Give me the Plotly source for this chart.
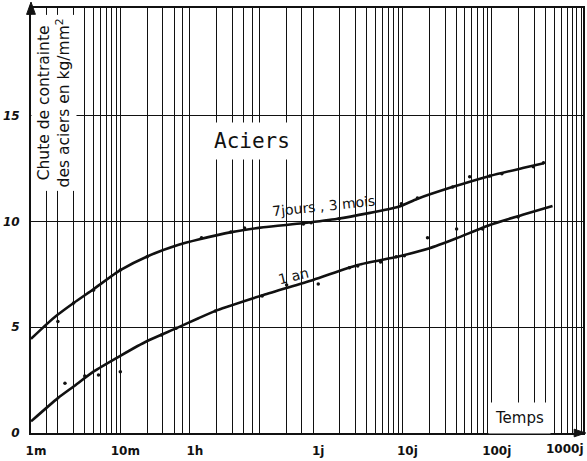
import plotly.graph_objects as go

# Time axis in minutes (log scale): 1 min ... 1000 days
tick_minutes = [1, 10, 60, 1440, 14400, 144000, 1440000]
tick_labels = ["1m", "10m", "1h", "1j", "10j", "100j", "1000j"]

# Secondary vertical rulings of the log paper (minutes)
grid_minutes = (
    [1.5, 2, 3, 4, 5, 6, 7, 8, 9]
    + [20, 30, 40, 50]
    + [120, 180, 240, 300, 360, 720, 1080]
    + [2880, 4320, 5760, 7200, 8640, 10080, 11520, 12960]
    + [28800, 43200, 57600, 72000, 86400, 100800, 115200, 129600]
    + [288000, 432000, 576000, 720000, 864000, 1008000, 1152000, 1296000]
)

y_ticks = [0, 5, 10, 15]

# Fitted curve "7jours, 3 mois"
curve_a_t = [1, 1.5, 2, 3, 5, 10, 20, 45, 75, 175, 400, 1100, 2700,
             13000, 21000, 52000, 137000, 320000, 550000]
curve_a_y = [4.45, 5.15, 5.6, 6.15, 6.8, 7.7, 8.35, 8.9, 9.15, 9.5, 9.73, 9.92, 10.13,
             10.7, 11.07, 11.63, 12.16, 12.53, 12.76]

# Fitted curve "1 an"
curve_b_t = [1, 2, 3, 5, 10, 20, 42, 75, 120, 400, 1440, 4550,
             13000, 29000, 58000, 137000, 320000, 690000]
curve_b_y = [0.55, 1.65, 2.2, 2.9, 3.65, 4.35, 4.95, 5.43, 5.8, 6.53, 7.24, 7.95,
             8.35, 8.74, 9.21, 9.84, 10.32, 10.74]

# Measured points
pts_a_t = [2, 3, 5, 10, 20, 81, 173, 246, 1120, 1368, 2810, 14000,
           21200, 52500, 81500, 137000, 187000, 421000, 547000]
pts_a_y = [5.27, 6.15, 6.75, 7.71, 8.34, 9.23, 9.51, 9.70, 9.89, 9.94, 10.13, 10.84,
           11.12, 11.64, 12.12, 12.16, 12.26, 12.59, 12.78]

pts_b_t = [2.4, 4.0, 5.7, 10, 29, 42, 116, 387, 728, 1645, 3670, 4550,
           8200, 12250, 15140, 27500, 58200, 114000, 284000]
pts_b_y = [2.35, 2.70, 2.74, 2.90, 4.64, 4.95, 5.77, 6.48, 7.0, 7.05, 7.81, 7.90,
           8.09, 8.33, 8.38, 9.23, 9.65, 9.65, 10.22]

INK = "#111111"
FONT = "DejaVu Sans"
TICK_FONT = dict(family=FONT, size=12, color=INK, weight="bold")

fig = go.Figure()

for t, y in ((curve_a_t, curve_a_y), (curve_b_t, curve_b_y)):
    fig.add_trace(go.Scatter(
        x=t, y=y, mode="lines",
        line=dict(color=INK, width=2.6, shape="spline", smoothing=0.6),
        hoverinfo="skip", showlegend=False,
    ))

for t, y in ((pts_a_t, pts_a_y), (pts_b_t, pts_b_y)):
    fig.add_trace(go.Scatter(
        x=t, y=y, mode="markers",
        marker=dict(color=INK, size=3.5),
        showlegend=False,
    ))

# the last label would run off the page, so it is set apart below
fig.update_xaxes(
    type="log",
    range=[0, 6.18],
    automargin=False,
    tickmode="array",
    tickvals=tick_minutes[:-1],
    ticktext=tick_labels[:-1],
    tickfont=TICK_FONT,
    ticks="",
    ticklabelstandoff=6,
    ticklabelshift=5,
    showgrid=True, gridcolor=INK, gridwidth=1,
    minor=dict(tickmode="array", tickvals=grid_minutes + tick_minutes[-1:],
               showgrid=True, gridcolor=INK, gridwidth=1, ticks=""),
    showline=True, linecolor=INK, linewidth=2, mirror=True,
    zeroline=False,
)

fig.update_yaxes(
    range=[0, 20.1],
    automargin=False,
    tickmode="array",
    tickvals=y_ticks,
    tickfont=dict(family=FONT, size=12, color=INK, weight="bold", style="italic"),
    ticks="",
    ticklabelstandoff=7,
    showgrid=True, gridcolor=INK, gridwidth=1,
    showline=True, linecolor=INK, linewidth=2, mirror=True,
    zeroline=False,
)

annotations = [
    # axis title, on a white ground over the rulings
    dict(xref="paper", yref="paper", x=0.042, y=0.776,
         xanchor="center", yanchor="middle",
         text="Chute de contrainte<br>des aciers en kg/mm<sup>2</sup>",
         textangle=-90, showarrow=False,
         font=dict(family=FONT, size=15.5, color=INK),
         bgcolor="white", borderpad=3),
    dict(x=2.475, y=13.82, text="Aciers", showarrow=False,
         font=dict(family="DejaVu Sans Mono", size=21, color=INK),
         bgcolor="white", borderpad=6),
    dict(x=3.27, y=10.74, text="7jours , 3 mois", textangle=-6, showarrow=False,
         font=dict(family=FONT, size=14, color=INK)),
    dict(x=2.934, y=7.43, text="1 an", textangle=-14, showarrow=False,
         font=dict(family=FONT, size=14, color=INK)),
    dict(x=5.465, y=0.72, text="Temps", showarrow=False,
         font=dict(family=FONT, size=15, color=INK),
         bgcolor="white", borderpad=6),
    # last time label, kept inside the page edge
    dict(xref="paper", yref="paper", x=1.006, y=0, xanchor="right", yanchor="top",
         yshift=-7, text=tick_labels[-1], showarrow=False, font=TICK_FONT),
]

# arrow heads at the ends of both axes
shapes = [
    dict(type="path", xref="paper", yref="paper",
         path="M -0.008,0.985 L 0,1.014 L 0.008,0.985 Z",
         fillcolor=INK, line=dict(color=INK, width=1)),
    dict(type="path", xref="paper", yref="paper",
         path="M 0.984,-0.009 L 1.005,0 L 0.984,0.009 Z",
         fillcolor=INK, line=dict(color=INK, width=1)),
]

fig.update_layout(
    width=587, height=461,
    margin=dict(l=31, r=4, t=8, b=28),
    paper_bgcolor="white", plot_bgcolor="white",
    annotations=annotations,
    shapes=shapes,
    showlegend=False,
)

fig.write_html("out.html")
